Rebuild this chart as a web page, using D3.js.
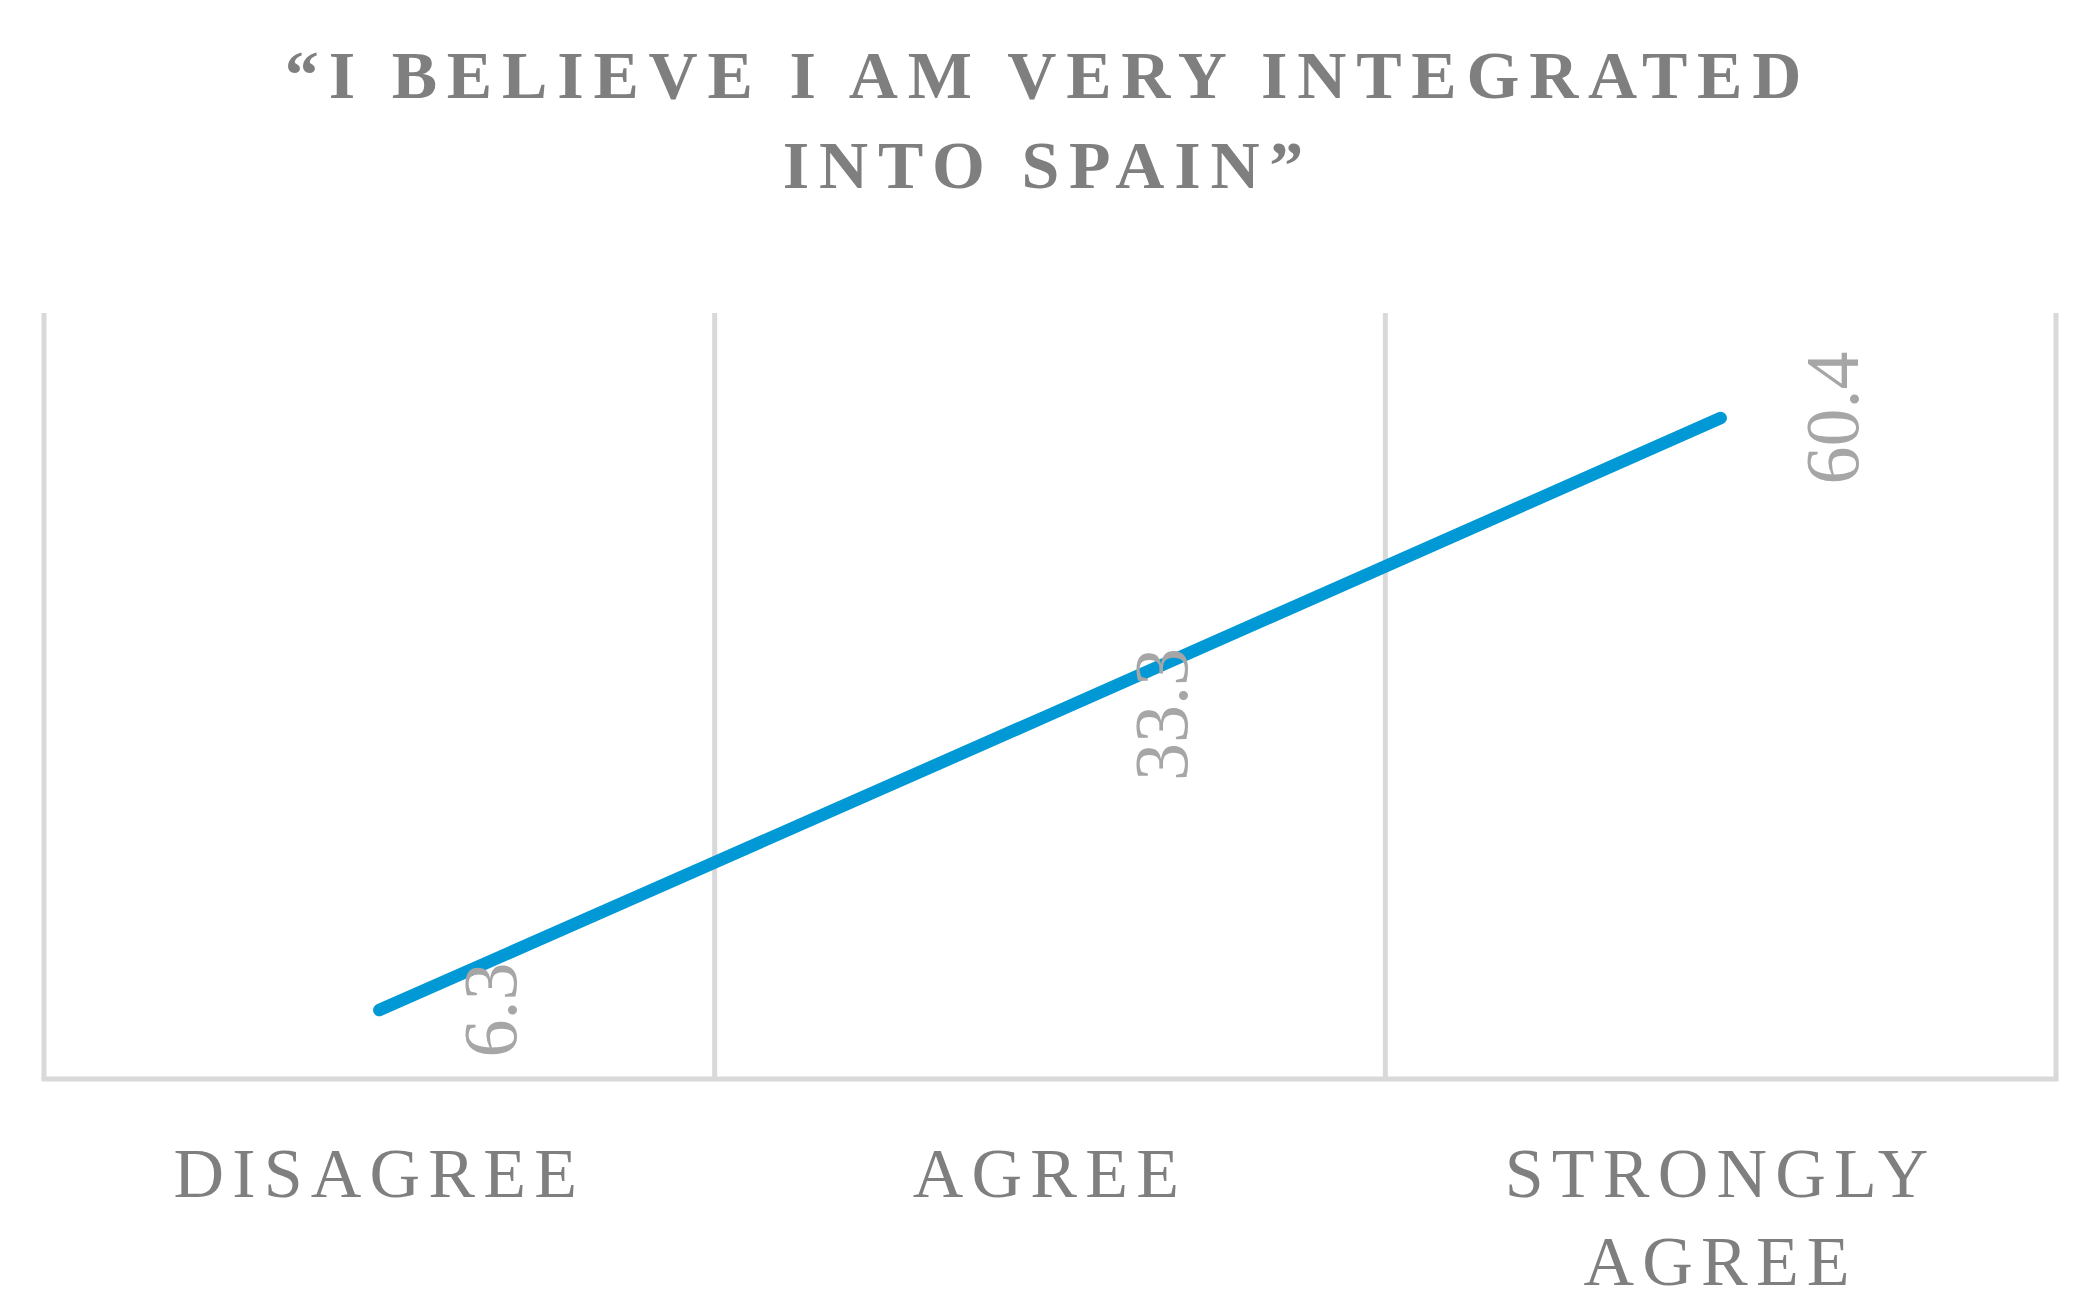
<!DOCTYPE html>
<html>
<head>
<meta charset="utf-8">
<script src="https://cdn.jsdelivr.net/npm/d3@7"></script>
<style>
  html, body { margin: 0; padding: 0; background: #ffffff; }
  svg { display: block; }
</style>
</head>
<body>
<svg id="chart" width="2085" height="1312"></svg>
<script>
// ---- data ----
const categories = ["DISAGREE", "AGREE", "STRONGLY AGREE"];
const categoryLines = [["DISAGREE"], ["AGREE"], ["STRONGLY", "AGREE"]];
const values = [6.3, 33.3, 60.4];
const valueLabels = ["6.3", "33.3", "60.4"];
const titleLines = ["\u201CI BELIEVE I AM VERY INTEGRATED", "INTO SPAIN\u201D"];
const yDomain = [0, 70];

// ---- layout ----
const W = 2085, H = 1312;
const plot = { left: 44, right: 2056, top: 313, bottom: 1079 };
const serif = "'Liberation Serif', 'DejaVu Serif', serif";

const svg = d3.select("#chart");
svg.append("rect").attr("width", W).attr("height", H).attr("fill", "#ffffff");

const x = d3.scaleBand().domain(categories).range([plot.left, plot.right]).padding(0);
const y = d3.scaleLinear().domain(yDomain).range([plot.bottom, plot.top]);
const cx = c => x(c) + x.bandwidth() / 2;

// title
svg.append("g").selectAll("text").data(titleLines).join("text")
  .attr("x", 1048)
  .attr("y", (d, i) => 98 + i * 90)
  .attr("text-anchor", "middle")
  .attr("font-family", serif)
  .attr("font-weight", "bold")
  .attr("font-size", 68)
  .attr("letter-spacing", 9.8)
  .attr("fill", "#7f7f7f")
  .text(d => d);

// vertical gridlines at category boundaries
const edges = categories.map(c => x(c)).concat([x.range()[1]]);
svg.append("g").selectAll("line").data(edges).join("line")
  .attr("x1", d => d).attr("x2", d => d)
  .attr("y1", plot.top).attr("y2", plot.bottom)
  .attr("stroke", "#d9d9d9").attr("stroke-width", 5);

// bottom axis line
const xAxis = d3.axisBottom(x).tickSize(0).tickFormat("");
const axG = svg.append("g").attr("transform", `translate(0,${plot.bottom})`).call(xAxis);
axG.select(".domain").attr("stroke", "#d9d9d9").attr("stroke-width", 5)
  .attr("d", `M${plot.left - 2.5},0H${plot.right + 2.5}`);

// category labels
const catG = svg.append("g");
categories.forEach((c, i) => {
  catG.append("text")
    .attr("x", cx(c))
    .attr("text-anchor", "middle")
    .attr("font-family", serif)
    .attr("font-size", 70)
    .attr("letter-spacing", 8.2)
    .attr("fill", "#7f7f7f")
    .selectAll("tspan").data(categoryLines[i]).join("tspan")
      .attr("x", cx(c))
      .attr("y", (d, j) => 1197 + j * 88)
      .text(d => d);
});

// line
const pts = categories.map((c, i) => [cx(c), y(values[i])]);
svg.append("path")
  .datum(pts)
  .attr("d", d3.line())
  .attr("fill", "none")
  .attr("stroke", "#0099d5")
  .attr("stroke-width", 12.5)
  .attr("stroke-linecap", "round")
  .attr("stroke-linejoin", "round");

// data labels (rotated)
svg.append("g").selectAll("text").data(categories).join("text")
  .attr("transform", (c, i) => `translate(${cx(c) + 112},${y(values[i])}) rotate(-90)`)
  .attr("text-anchor", "middle")
  .attr("dy", "0.33em")
  .attr("font-family", serif)
  .attr("font-size", 76)
  .attr("fill", "#a6a6a6")
  .text((c, i) => valueLabels[i]);
</script>
</body>
</html>
